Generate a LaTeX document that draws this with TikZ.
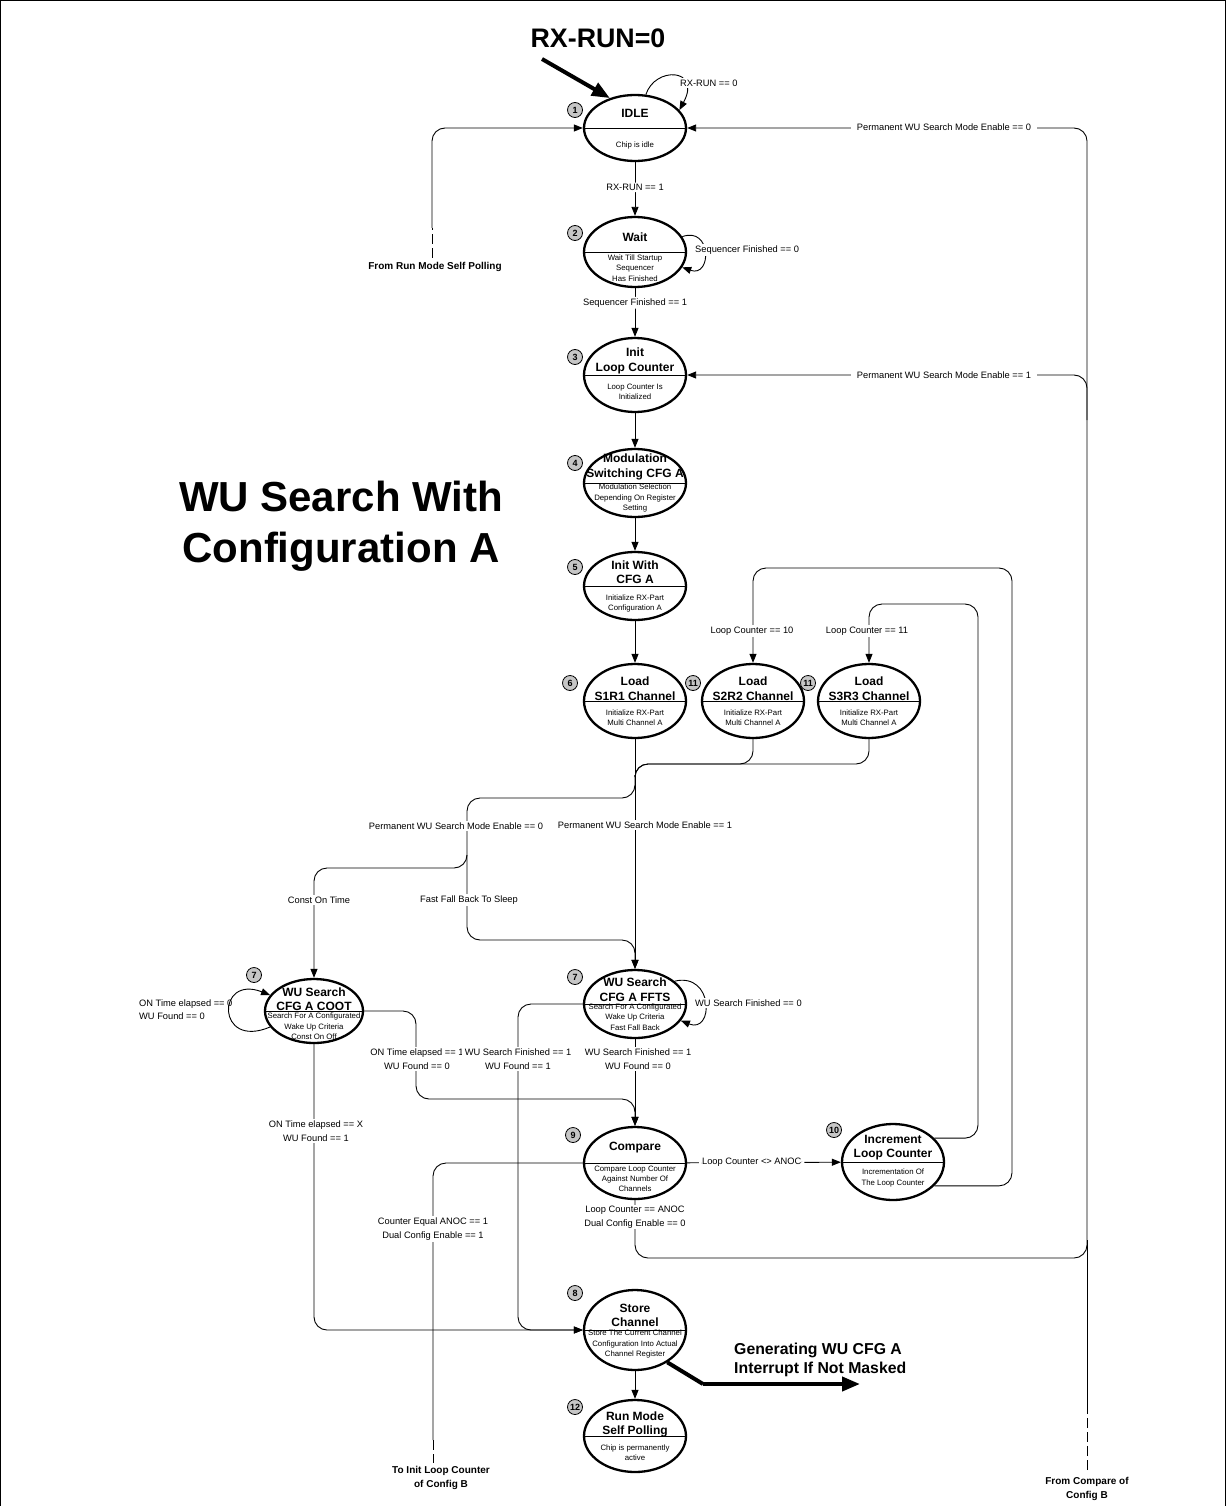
\documentclass[tikz,border=0pt]{standalone}
\usepackage{fontspec}
\setmainfont{Liberation Sans}
\usetikzlibrary{shapes.geometric,arrows.meta}
\tikzset{
  stell/.style={ellipse, draw, line width=2.3pt, inner sep=0pt},
  divl/.style={line width=0.9pt},
  ttl/.style={font=\fontsize{12}{14.5}\selectfont\bfseries, align=center, inner sep=0pt},
  dsc/.style={font=\fontsize{7.8}{10.3}\selectfont, align=center, inner sep=0pt},
  lbl/.style={font=\fontsize{9.3}{13.5}\selectfont, align=center, fill=white, inner xsep=3pt, inner ysep=1.5pt},
  blbl/.style={font=\fontsize{10}{14}\selectfont\bfseries, align=center, inner sep=1pt},
  wire/.style={line width=0.9pt, rounded corners=13pt},
  conn/.style={wire, -{Triangle[length=9pt,width=7pt]}},
  bigarr/.style={line width=4pt, -{Triangle[length=18pt,width=14pt]}},
  badge/.style={circle, draw, fill=gray!45, line width=0.8pt, minimum size=15pt, inner sep=0pt, font=\fontsize{9}{9}\selectfont\bfseries},
  dsh/.style={line width=0.9pt, dash pattern=on 10pt off 4pt}
}
\newcommand\mkstate[9]{%
  \node[stell, minimum width=#4*2pt, minimum height=#5*2pt] (#1) at (#2,#3) {};
  \draw[divl] (#1.west) -- (#1.east);
  \node[ttl] (#1-t) at (#2,#6) {#7};
  \node[dsc] (#1-d) at (#2,#8) {#9};
}
\begin{document}
\begin{tikzpicture}[x=1pt,y=-1pt]
\useasboundingbox (0,0) rectangle (1226,1506);
\draw[line width=0.8pt] (0.5,1506) -- (0.5,0.5) -- (1225.5,0.5) -- (1225.5,1506);

% ---- states
\mkstate{idle}{635}{128}{51}{33}{113}{IDLE}{145}{Chip is idle}
\mkstate{wait}{635}{252}{51}{35}{237}{Wait}{268}{Wait Till Startup\\Sequencer\\Has Finished}
\mkstate{init}{635}{375}{51}{37}{361}{Init\\Loop Counter}{391.5}{Loop Counter Is\\Initialized}
\mkstate{mod}{635}{483}{51}{34}{467}{Modulation\\Switching CFG A}{498}{Modulation Selection\\Depending On Register\\Setting}
\mkstate{inita}{635}{586}{51}{34}{572}{Init With\\CFG A}{603.5}{Initialize RX-Part\\Configuration A}
\mkstate{sa}{635}{701}{51}{37}{688.5}{Load\\S1R1 Channel}{718}{Initialize RX-Part\\Multi Channel A}
\mkstate{sb}{753}{701}{51}{37}{688.5}{Load\\S2R2 Channel}{718}{Initialize RX-Part\\Multi Channel A}
\mkstate{sc}{869}{701}{51}{37}{688.5}{Load\\S3R3 Channel}{718}{Initialize RX-Part\\Multi Channel A}
\mkstate{coot}{314}{1011}{49}{32}{999}{WU Search\\CFG A COOT}{1026.5}{Search For A Configurated\\Wake Up Criteria\\Const On Off}
\mkstate{ffts}{635}{1004}{51}{34}{989.5}{WU Search\\CFG A FFTS}{1017}{Search For A Configurated\\Wake Up Criteria\\Fast Fall Back}
\mkstate{cmp}{635}{1163}{51}{36}{1148}{Compare}{1179}{Compare Loop Counter\\Against Number Of\\Channels}
\mkstate{inc}{893}{1162}{51}{38}{1147.5}{Increment\\Loop Counter}{1178}{Incrementation Of\\The Loop Counter}
\mkstate{store}{635}{1330}{51}{40}{1315.5}{Store\\Channel}{1344}{\fontsize{7.8}{9.3}\selectfont Store The Current Channel\\Configuration Into Actual\\Channel Register}
\mkstate{run}{635}{1436}{51}{36}{1424.5}{Run Mode\\Self Polling}{1453}{Chip is permanently\\active}

% ---- badges
\node[badge] (b1) at (575,110) {1};
\node[badge] (b2) at (575,233) {2};
\node[badge] (b3) at (575,357) {3};
\node[badge] (b4) at (575,463) {4};
\node[badge] (b5) at (575,567) {5};
\node[badge] (b6) at (570,683) {6};
\node[badge] (b11a) at (693,683) {11};
\node[badge] (b11b) at (808,683) {11};
\node[badge] (b7a) at (254,975) {7};
\node[badge] (b7b) at (575,977) {7};
\node[badge] (b9) at (573,1135) {9};
\node[badge] (b10) at (834,1130) {10};
\node[badge] (b8) at (575,1293) {8};
\node[badge] (b12) at (575,1407) {12};

% ---- big texts
\node[font=\fontsize{42}{51}\selectfont\bfseries, align=center, inner sep=0pt] (title) at (341,526) {WU Search With\\Configuration A};
\node[font=\fontsize{26.8}{30}\selectfont\bfseries, inner sep=0pt] (rxrun) at (598,38) {RX-RUN=0};
\node[font=\fontsize{15.8}{18.5}\selectfont\bfseries, align=left, anchor=west, inner sep=0pt] (gen) at (734,1360) {Generating WU CFG A\\Interrupt If Not Masked};
\node[blbl] (fromrun) at (435,267) {From Run Mode Self Polling};
\node[blbl] (toinit) at (441,1478) {To Init Loop Counter\\of Config B};
\node[blbl] (fromcmp) at (1087,1489) {From Compare of\\Config B};

% ---- coordinates
\coordinate (rxs) at (542,59);
\coordinate (frtop) at (432,228);
\coordinate (frbot) at (432,258);
\coordinate (j1) at (635,775);
\coordinate (j2) at (467,855);
\coordinate (tibot) at (433,1440);
\coordinate (tiend) at (433,1463);
\coordinate (fcbot) at (1087,1470);
\coordinate (fctop) at (1087,1405);
\coordinate (trk) at (1087,420);
\coordinate (ia) at (703,1384);
\coordinate (ib) at (860,1384);

% ---- connectors top
\draw[bigarr] (rxs) -- (idle.130);
\draw[conn] (idle.72) .. controls (655,66) and (702,68) .. (idle.22);
\node[lbl, anchor=west, inner xsep=1pt] (l0) at (679,83) {RX-RUN == 0};
\draw[conn] (idle) -- node[lbl, pos=0.47] (l1) {RX-RUN == 1} (wait);
\draw[conn] (wait.18) .. controls (712,226) and (712,278) .. (wait.-18);
\node[lbl, anchor=west, inner xsep=1pt] (l2) at (694,250) {Sequencer Finished == 0};
\draw[conn] (wait) -- node[lbl, pos=0.3] (l3) {Sequencer Finished == 1} (init);
\draw[conn] (init) -- (mod);
\draw[conn] (mod) -- (inita);
\draw[conn] (inita) -- (sa);

\draw[dsh] (frbot) -- (frtop);
\draw[conn] (frtop) |- (idle.west);

% ---- loads to searches
\draw[wire] (sb.south) |- (635,764) -- (j1);
\draw[wire] (sc.south) |- (635,764) -- (j1);
\draw[conn] (sa) -- (ffts);
\node[lbl] (l4) at (645,825) {Permanent WU Search Mode Enable == 1};
\draw[wire] (j1) -- (635,798) -| (j2);
\draw[conn] (j2) |- (coot.north |- 0,868) -- (coot);
\draw[conn] (j2) |- (ffts.north |- 0,940) -- (ffts);
\node[lbl] (l5) at (456,826) {Permanent WU Search Mode Enable == 0};
\node[lbl] (l6) at (319,900) {Const On Time};
\node[lbl] (l7) at (469,900) {Fast Fall Back To Sleep};

% ---- search states
\draw[conn] (coot.200) .. controls (216,1050) and (216,974) .. (coot.160);
\node[lbl, anchor=west, align=left, fill=none, font=\fontsize{9.3}{13}\selectfont] (l8) at (136,1010) {ON Time elapsed == 0\\WU Found == 0};
\draw[conn] (ffts.30) .. controls (714,972) and (714,1034) .. (ffts.-20);
\node[lbl, anchor=west, inner xsep=1pt] (l9) at (694,1003) {WU Search Finished == 0};

\draw[conn] (coot.east) -| (416,1099) -| (cmp.north);
\draw[conn] (ffts) -- (cmp);
\draw[conn] (ffts.west) -| (518,1330) -- (store.west);
\draw[conn] (coot.south) |- (store.west);
\node[lbl] (l10) at (417,1059) {ON Time elapsed == 1\\WU Found == 0};
\node[lbl] (l11) at (518,1059) {WU Search Finished == 1\\WU Found == 1};
\node[lbl] (l12) at (638,1059) {WU Search Finished == 1\\WU Found == 0};
\node[lbl] (l13) at (316,1131) {ON Time elapsed == X\\WU Found == 1};

% ---- compare
\draw[wire] (cmp.west) -| (tibot);
\draw[dsh] (tibot) -- (tiend);
\node[lbl] (l14) at (433,1229) {Counter Equal ANOC == 1\\Dual Config Enable == 1};
\draw[conn] (cmp) -- node[lbl, pos=0.42] (l15) {Loop Counter <> ANOC} (inc);
\draw[conn] (inc.30) -| (978,604) -| (sc.north);
\draw[conn] (inc.-30) -| (1012,568) -| (sb.north);
\node[lbl] (l16) at (867,631) {Loop Counter == 11};
\node[lbl] (l17) at (752,631) {Loop Counter == 10};

\draw[conn] (cmp.south) |- (1087,1258) |- (init.east);
\draw[conn] (trk) |- (idle.east);
\draw[dsh] (fcbot) -- (fctop);
\draw[wire] (fctop) -- (1087,1240);
\node[lbl] (l18) at (635,1217) {Loop Counter == ANOC\\Dual Config Enable == 0};
\node[lbl, inner xsep=6pt] (l19) at (944,375) {Permanent WU Search Mode Enable == 1};
\node[lbl, inner xsep=6pt] (l20) at (944,127) {Permanent WU Search Mode Enable == 0};

% ---- store
\draw[conn] (store) -- (run);
\draw[line width=4pt] (store.-45) -- (ia);
\draw[bigarr] (ia) -- (ib);
\end{tikzpicture}
\end{document}
